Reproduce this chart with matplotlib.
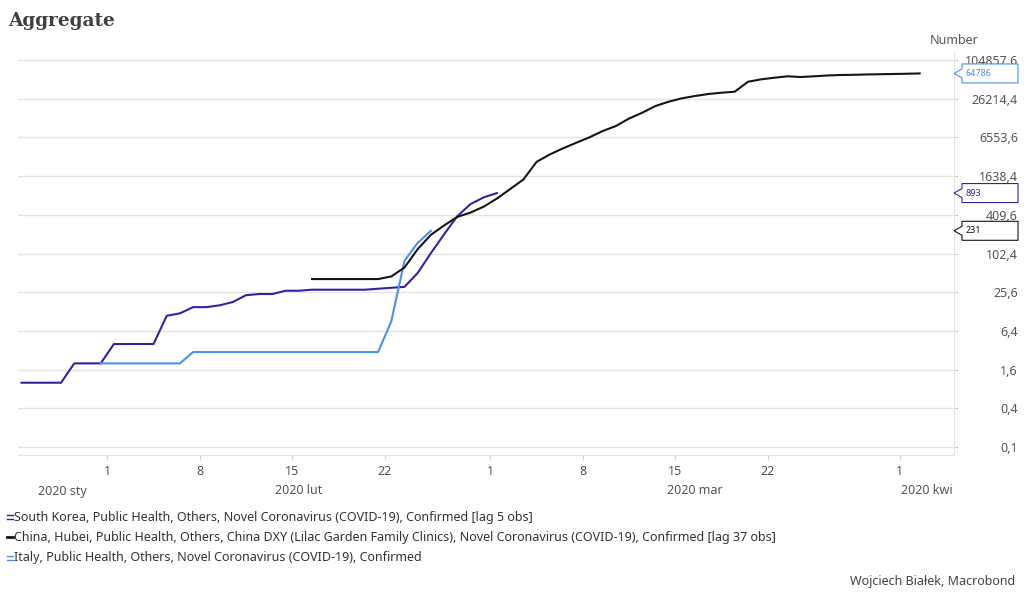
import numpy as np
import matplotlib
matplotlib.use("Agg")
import matplotlib.pyplot as plt
import matplotlib.dates as mdates
import matplotlib.transforms as mtransforms
from matplotlib.lines import Line2D
from matplotlib.patches import Polygon
from matplotlib.ticker import FixedLocator, FuncFormatter, NullLocator

plt.rcParams['font.family'] = ['Noto Sans', 'DejaVu Sans']

# ---------------- data ----------------
title = "Aggregate"
unit_label = "Number"
source_text = "Wojciech Białek, Macrobond"

series_names = [
    "South Korea, Public Health, Others, Novel Coronavirus (COVID-19), Confirmed [lag 5 obs]",
    "China, Hubei, Public Health, Others, China DXY (Lilac Garden Family Clinics), Novel Coronavirus (COVID-19), Confirmed [lag 37 obs]",
    "Italy, Public Health, Others, Novel Coronavirus (COVID-19), Confirmed",
]
series_colors = ["#3b1fa3", "#151515", "#4a90ec"]

korea_start = "2020-01-25"
korea_values = [1, 1, 1, 1, 2, 2, 2, 4, 4, 4, 4, 11, 12, 15, 15, 16, 18, 23, 24, 24,
                27, 27, 28, 28, 28, 28, 28, 29, 30, 31, 51, 104, 204, 390, 602, 766, 893]

china_start = "2020-02-16"
china_values = [41, 41, 41, 41, 41, 41, 45, 62, 120, 200, 280, 380, 444, 549, 735,
                1030, 1450, 2730, 3560, 4430, 5410, 6570, 8230, 9850, 12890, 15870,
                20180, 23560, 26580, 28900, 31000, 32500, 33700, 48100, 52500, 55600,
                58500, 57000, 58500, 60200, 61300, 61700, 62500, 63000, 63500, 64100,
                64786]

italy_start = "2020-01-31"
italy_values = [2, 2, 2, 2, 2, 2, 2, 3, 3, 3, 3, 3, 3, 3, 3, 3, 3, 3, 3, 3, 3, 3,
                9, 79, 150, 231]

y_ticks = [0.1, 0.4, 1.6, 6.4, 25.6, 102.4, 409.6, 1638.4, 6553.6, 26214.4, 104857.6]
y_tick_labels = ["0,1", "0,4", "1,6", "6,4", "25,6", "102,4", "409,6", "1638,4",
                 "6553,6", "26214,4", "104857,6"]
x_tick_monthdays = [1, 8, 15, 22]
months = ["2020-01", "2020-02", "2020-03", "2020-04"]
month_labels = ["2020 sty", "2020 lut", "2020 mar", "2020 kwi"]

# end-of-line callouts as shown: (series whose last value sets the position, text colour)
callout_series = ["china", "korea", "italy"]
callout_colors = ["#4a90ec", "#3b1fa3", "#151515"]

# ---------------- figure ----------------
W, H = 1024, 600
fig = plt.figure(figsize=(W / 100, H / 100), dpi=100)
fig.patch.set_facecolor("white")

L, R, T, B = 18, 954, 52, 455
ax = fig.add_axes([L / W, 1 - B / H, (R - L) / W, (B - T) / H])


def to_dates(start, n):
    d = np.datetime64(start) + np.arange(n).astype('timedelta64[D]')
    return mdates.date2num(d) + 0.5  # plotted at mid-day


series = {
    "korea": (to_dates(korea_start, len(korea_values)), korea_values, series_colors[0]),
    "china": (to_dates(china_start, len(china_values)), china_values, series_colors[1]),
    "italy": (to_dates(italy_start, len(italy_values)), italy_values, series_colors[2]),
}

for key in ["korea", "italy", "china"]:
    xs, ys, c = series[key]
    ax.plot(xs, ys, color=c, lw=1.5, solid_joinstyle='round', zorder=3)

ax.set_yscale('log', base=4)
ax.set_ylim(0.0751, 139700)
feb1 = mdates.date2num(np.datetime64("2020-02-01"))
xmin, xmax = feb1 - 6.76, feb1 + 64.1
ax.set_xlim(xmin, xmax)

# y axis on right
ax.yaxis.tick_right()
ax.yaxis.set_major_locator(FixedLocator(y_ticks))
ax.yaxis.set_minor_locator(NullLocator())
ax.set_yticklabels(y_tick_labels)
ax.tick_params(axis='y', which='major', direction='out', length=3, width=0.8,
               color='#cfcfcf', labelcolor='#555555', labelsize=9, pad=43)
for lab in ax.get_yticklabels():
    lab.set_horizontalalignment('right')
ax.grid(axis='y', color='#e4e4e4', lw=1.0)
ax.set_axisbelow(True)

# x axis
ax.xaxis.set_major_locator(mdates.DayLocator(bymonthday=x_tick_monthdays))
ax.xaxis.set_major_formatter(FuncFormatter(lambda v, p: str(mdates.num2date(v).day)))
ax.xaxis.set_minor_locator(NullLocator())
ax.tick_params(axis='x', which='major', direction='out', length=3, width=0.8,
               color='#cfcfcf', labelcolor='#555555', labelsize=9, pad=4.5)

for s in ['left', 'top']:
    ax.spines[s].set_visible(False)
for s in ['right', 'bottom']:
    ax.spines[s].set_color('#e2e2e2')
    ax.spines[s].set_linewidth(0.8)

# month labels centred in visible part of each month
blend = mtransforms.blended_transform_factory(ax.transData, ax.transAxes)
for m, lab in zip(months, month_labels):
    m0 = mdates.date2num(np.datetime64(m + "-01"))
    m1 = mdates.date2num(np.datetime64(m, 'M') + np.timedelta64(1, 'M'))
    a, b = max(m0, xmin), min(m1, xmax)
    ax.text((a + b) / 2, (B - 491) / (B - T), lab, transform=blend, ha='center',
            va='center', fontsize=9, color='#555555')

# titles / texts
fig.text(8 / W, 1 - 26 / H, title, fontsize=13.3, fontweight='bold', family='DejaVu Serif',
         color='#404040', ha='left', va='baseline')
fig.text(954 / W, 1 - 41 / H, unit_label, fontsize=9, color='#555555', ha='center', va='center')
fig.text(1015 / W, 1 - 582 / H, source_text, fontsize=9, color='#444444', ha='right', va='center')

# legend
leg_y = [517, 537, 558]
for i, (name, c) in enumerate(zip(series_names, series_colors)):
    yy = 1 - leg_y[i] / H
    if i == 1:
        fig.add_artist(Line2D([7 / W, 13 / W], [yy, yy], color=c, lw=2.0))
    else:
        for off in (-1.6, 1.6):
            fig.add_artist(Line2D([7 / W, 13 / W], [yy + off / H, yy + off / H], color=c, lw=1.0))
    fig.text(14 / W, yy, name, fontsize=9, color='#333333', ha='left', va='center')

# callouts
fig.canvas.draw()
for key, col in zip(callout_series, callout_colors):
    val = series[key][1][-1]
    tx, ty = ax.transData.transform((xmax, val))
    verts = [(tx, ty), (tx + 8, ty + 4.5), (tx + 8, ty + 9.5), (tx + 64, ty + 9.5),
             (tx + 64, ty - 9.5), (tx + 8, ty - 9.5), (tx + 8, ty - 4.5)]
    poly = Polygon(verts, closed=True, facecolor='white', edgecolor=col, lw=0.8,
                   transform=mtransforms.IdentityTransform(), zorder=10)
    fig.add_artist(poly)
    fig.text((tx + 12) / W, ty / H, str(int(val)), fontsize=6.5, color=col,
             ha='left', va='center', zorder=11)

fig.savefig("out.png", dpi=100)
